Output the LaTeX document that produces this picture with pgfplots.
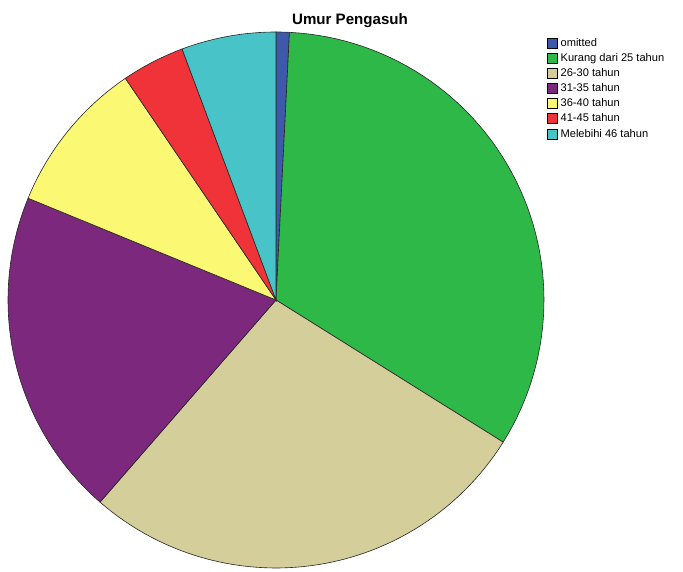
\documentclass[border=0pt]{standalone}
\usepackage{fontspec}
\setmainfont{Liberation Sans}
\usepackage{pgfplots}
\pgfplotsset{compat=1.18}

\definecolor{cOm}{HTML}{3E58AC}
\definecolor{cKur}{HTML}{2EB848}
\definecolor{cA}{HTML}{D4CE9A}
\definecolor{cB}{HTML}{7B287D}
\definecolor{cC}{HTML}{FBF873}
\definecolor{cD}{HTML}{EF3338}
\definecolor{cE}{HTML}{48C3C8}

% one wedge, angles clockwise from 12 o'clock, in picture pixels
\newcommand{\slice}[4]{%
  \addplot[fill=#3, draw=black!85, line width=0.6pt, domain=#1:#2, samples=60, variable=\t]
    ({276+268*sin(\t)},{272+268*cos(\t)}) -- (axis cs:276,272) -- cycle;
  \addlegendentry{#4}
}

\begin{document}
\begin{tikzpicture}
% shares in percent
\def\vOm{0.8}\def\vKur{33.1}\def\vA{27.5}\def\vB{19.8}\def\vC{9.3}\def\vD{3.8}\def\vE{5.7}
\pgfmathsetmacro\aa{0}
\pgfmathsetmacro\ab{\aa+3.6*\vOm}
\pgfmathsetmacro\ac{\ab+3.6*\vKur}
\pgfmathsetmacro\ad{\ac+3.6*\vA}
\pgfmathsetmacro\ae{\ad+3.6*\vB}
\pgfmathsetmacro\af{\ae+3.6*\vC}
\pgfmathsetmacro\ag{\af+3.6*\vD}
\begin{axis}[
  width=683pt, height=572pt, scale only axis,
  xmin=0, xmax=683, ymin=0, ymax=572,
  hide axis, clip=false,
  legend cell align=left,
  legend style={draw=none, fill=none, at={(axis cs:547,535)}, anchor=north west,
    font=\fontsize{11.1}{12}\selectfont, inner sep=0pt, row sep=3.6pt,
    nodes={inner sep=1pt}},
  legend image code/.code={\draw[#1, draw=black, line width=0.4pt] (0pt,-5pt) rectangle (10pt,5pt);},
]
\coordinate (bl) at (rel axis cs:0,0);
\coordinate (tr) at (rel axis cs:1,1);
\slice{\aa}{\ab}{cOm}{\hspace{2pt}omitted}
\slice{\ab}{\ac}{cKur}{\hspace{2pt}Kurang dari 25 tahun}
\slice{\ac}{\ad}{cA}{\hspace{2pt}26-30 tahun}
\slice{\ad}{\ae}{cB}{\hspace{2pt}31-35 tahun}
\slice{\ae}{\af}{cC}{\hspace{2pt}36-40 tahun}
\slice{\af}{\ag}{cD}{\hspace{2pt}41-45 tahun}
\slice{\ag}{360}{cE}{\hspace{2pt}Melebihi 46 tahun}
\node[font=\bfseries\fontsize{15.1}{17}\selectfont] at (axis cs:350,551) {Umur Pengasuh};
\end{axis}
\pgfresetboundingbox
\path[use as bounding box] (bl) rectangle (tr);
\end{tikzpicture}
\end{document}
